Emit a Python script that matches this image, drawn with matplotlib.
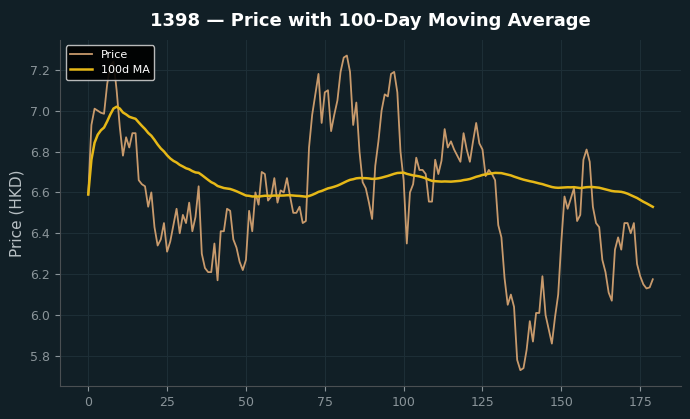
import numpy as np
import pandas as pd
import matplotlib
matplotlib.use("Agg")
import matplotlib.pyplot as plt

# Daily closing price (HKD), 180 sessions
price = [
    6.59, 6.93, 7.01, 7.00, 6.99, 6.985, 7.13, 7.22, 7.24, 7.10,
    6.92, 6.78, 6.87, 6.82, 6.89, 6.89, 6.66, 6.64, 6.63, 6.53,
    6.60, 6.43, 6.34, 6.37, 6.45, 6.31, 6.36, 6.44, 6.52, 6.40,
    6.49, 6.45, 6.55, 6.41, 6.48, 6.63, 6.30, 6.23, 6.21, 6.21,
    6.35, 6.17, 6.41, 6.41, 6.52, 6.51, 6.37, 6.33, 6.26, 6.22,
    6.27, 6.51, 6.41, 6.60, 6.54, 6.70, 6.69, 6.56, 6.58, 6.67,
    6.55, 6.61, 6.60, 6.67, 6.58, 6.50, 6.50, 6.53, 6.45, 6.46,
    6.82, 6.98, 7.08, 7.18, 6.94, 7.09, 7.10, 6.90, 6.98, 7.05,
    7.19, 7.26, 7.27, 7.19, 6.93, 7.04, 6.80, 6.65, 6.62, 6.55,
    6.47, 6.73, 6.85, 7.00, 7.08, 7.07, 7.18, 7.19, 7.09, 6.80,
    6.66, 6.35, 6.60, 6.64, 6.77, 6.71, 6.71, 6.69, 6.555, 6.555,
    6.76, 6.69, 6.755, 6.91, 6.82, 6.85, 6.81, 6.78, 6.75, 6.89,
    6.81, 6.75, 6.85, 6.94, 6.84, 6.81, 6.68, 6.71, 6.69, 6.66,
    6.44, 6.38, 6.18, 6.05, 6.10, 6.04, 5.78, 5.73, 5.74, 5.83,
    5.97, 5.87, 6.01, 6.01, 6.19, 6.00, 5.93, 5.86, 5.99, 6.10,
    6.36, 6.58, 6.52, 6.57, 6.62, 6.46, 6.49, 6.76, 6.81, 6.75,
    6.53, 6.45, 6.43, 6.27, 6.21, 6.11, 6.07, 6.32, 6.38, 6.32,
    6.45, 6.45, 6.40, 6.45, 6.25, 6.19, 6.15, 6.13, 6.135, 6.175,
]
ticker = "1398"
window = 100

days = np.arange(len(price))
ma = pd.Series(price).rolling(window, min_periods=1).mean()

bg = "#111f26"
fig, ax = plt.subplots(figsize=(6.9, 4.19), dpi=100)
fig.patch.set_facecolor(bg)
ax.set_facecolor(bg)

ax.plot(days, price, color="#c89a6c", linewidth=1.3, label="Price")
ax.plot(days, ma, color="#e6b817", linewidth=1.8, label="100d MA")

ax.set_title(f"{ticker} — Price with 100-Day Moving Average",
             color="white", fontsize=13, fontweight="bold", pad=10)
ax.set_ylabel("Price (HKD)", color="#b8c0c4", fontsize=11)

ax.grid(True, color="#1d2e36", linewidth=0.8)
ax.tick_params(colors="#8a9499", labelsize=9)
for side in ("top", "right"):
    ax.spines[side].set_visible(False)
for side in ("left", "bottom"):
    ax.spines[side].set_color("#4a4f52")

leg = ax.legend(loc="upper left", fontsize=8, facecolor="black",
                edgecolor="#cccccc", framealpha=0.9)
for t in leg.get_texts():
    t.set_color("white")

plt.subplots_adjust(left=0.087, right=0.987, bottom=0.079, top=0.905)
plt.savefig("out.png", facecolor=bg)
